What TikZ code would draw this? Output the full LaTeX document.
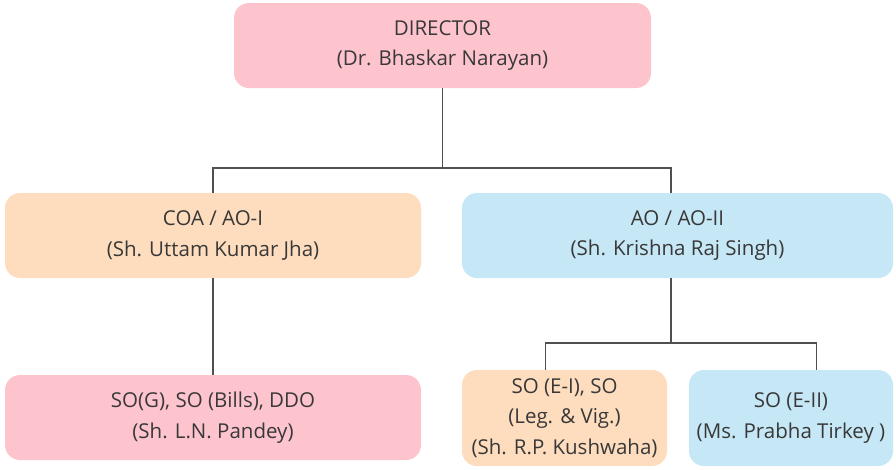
\documentclass[tikz,border=0pt]{standalone}
\usepackage{fontspec}
\setmainfont{Open Sans}
\usepackage{xcolor}
\usepackage{tikz}
\usetikzlibrary{positioning}
\definecolor{pinkbox}{HTML}{FEC4CE}
\definecolor{peachbox}{HTML}{FEDDBE}
\definecolor{bluebox}{HTML}{C6E7F6}
\definecolor{linegray}{HTML}{505050}
\definecolor{textgray}{HTML}{383838}
\tikzstyle{post} = [rectangle, rounded corners=15pt, draw=none, text=textgray, align=center, font=\fontsize{20.5}{30.5}\selectfont, inner sep=0pt, minimum height=85pt]
\tikzstyle{pinkpost} = [post, fill=pinkbox]
\tikzstyle{peachpost} = [post, fill=peachbox]
\tikzstyle{bluepost} = [post, fill=bluebox]
\tikzstyle{link} = [draw=linegray, line width=1.3pt]

\begin{document}
\begin{tikzpicture}[x=1pt, y=-1pt]
\useasboundingbox (0,0) rectangle (896,469);

% posts =============================

% top
\node[pinkpost, minimum width=417pt] (director) at (442.5,45.5) {DIRECTOR\\(Dr. Bhaskar Narayan)};

% middle level
\node[peachpost, minimum width=416pt] (coa) at (213,235.5) {COA / AO-I\\(Sh. Uttam Kumar Jha)};
\node[bluepost, minimum width=431pt] (ao) at (677.5,235.5) {AO / AO-II\\(Sh. Krishna Raj Singh)};

% bottom level
\node[pinkpost, minimum width=416pt] (sog) at (213,417.5) {SO(G), SO (Bills), DDO\\(Sh. L.N. Pandey)};
\node[peachpost, minimum width=205pt, minimum height=96pt] (soe1) at (564.5,418) {SO (E-I), SO\\(Leg. \& Vig.)\\(Sh. R.P. Kushwaha)};
\node[bluepost, minimum width=204pt, minimum height=96pt] (soe2) at (791,418) {SO (E-II)\\(Ms. Prabha Tirkey )};

% joints
\coordinate (top) at (442.5,168);
\coordinate (aoin) at (671,193);
\coordinate (aoout) at (671,278);
\coordinate (bot) at (671,343);
\coordinate (soe1in) at (545.5,370);
\coordinate (soe2in) at (816.5,370);

%edges
\path[link] (director.south) -- (top);
\path[link] (coa.north) |- (top) -| (aoin);
\path[link] (coa.south) -- (sog.north);
\path[link] (aoout) -- (bot);
\path[link] (soe1in) |- (bot) -| (soe2in);

\end{tikzpicture}
\end{document}
